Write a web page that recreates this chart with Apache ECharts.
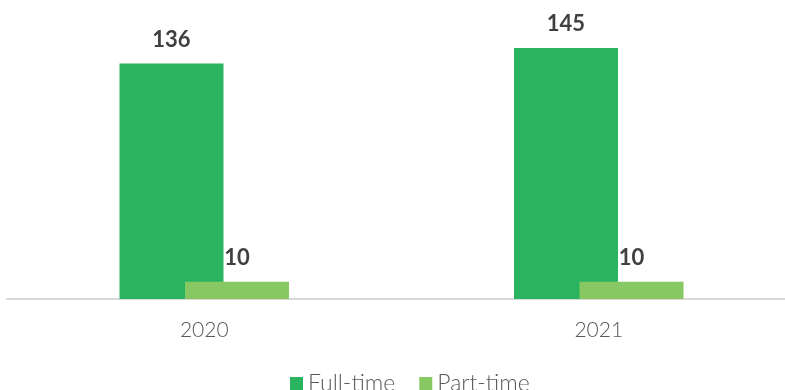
<!DOCTYPE html>
<html>
<head>
<meta charset="utf-8">
<script src="https://cdn.jsdelivr.net/npm/echarts@6/dist/echarts.min.js"></script>
<style>
  html, body { margin: 0; padding: 0; background: #fff; overflow: hidden; }
  #chart { width: 796px; height: 390px; }
</style>
</head>
<body>
<div id="chart"></div>
<script>
// chart data
const years = ['2020', '2021'];
const fullTime = [136, 145];
const partTime = [10, 10];

const chart = echarts.init(document.getElementById('chart'));

const labelStyle = {
  show: true,
  position: 'top',
  distance: 13,
  color: '#404040',
  fontFamily: 'Lato, sans-serif',
  fontWeight: 'bold',
  fontSize: 22
};

chart.setOption({
  animation: false,
  grid: { left: 7, right: 0, top: 22, bottom: 91, containLabel: false },
  legend: {
    data: ['Full-time', 'Part-time'],
    bottom: -10,
    left: 285,
    itemWidth: 13,
    itemHeight: 13,
    itemGap: 24,
    icon: 'rect',
    textStyle: { color: '#595959', fontSize: 23, fontFamily: 'Lato, sans-serif', fontWeight: 300 }
  },
  xAxis: {
    type: 'category',
    data: years,
    axisLine: { lineStyle: { color: '#d9d9d9', width: 2 } },
    axisTick: { show: false },
    axisLabel: { color: '#595959', fontSize: 21, margin: 21, fontFamily: 'Lato, sans-serif', fontWeight: 300 }
  },
  yAxis: {
    type: 'value',
    min: 0,
    max: 160,
    show: false,
    splitLine: { show: false }
  },
  series: [
    {
      name: 'Full-time',
      type: 'bar',
      data: fullTime,
      barWidth: 104,
      barGap: '-37%',
      itemStyle: { color: '#2BB45F' },
      label: labelStyle
    },
    {
      name: 'Part-time',
      type: 'bar',
      data: partTime,
      barWidth: 104,
      itemStyle: { color: '#88C862' },
      label: labelStyle
    }
  ]
});
</script>
</body>
</html>
